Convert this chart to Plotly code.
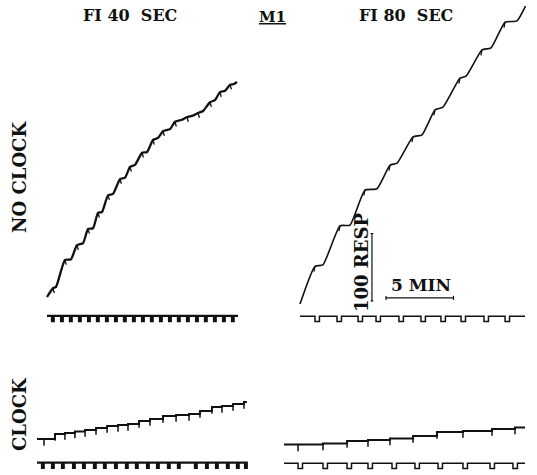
import plotly.graph_objects as go

# ---------------- DATA (minutes, cumulative responses) ----------------
# NO CLOCK, FI 40 SEC : reinforcement points and post-pause points
nc40_rf_t = [0.44, 1.33, 2.22, 3.04, 3.78, 4.52, 5.41, 6.15, 7.04, 7.85, 8.59, 9.48, 10.37, 11.19, 12.07, 12.81, 13.56]
nc40_rf_r = [13, 55, 77, 101, 125, 151, 175, 193, 214, 233, 246, 260, 267, 273, 289, 304, 315]
nc40_pe_t = [0.67, 1.78, 2.67, 3.41, 4.07, 4.89, 5.78, 6.52, 7.41, 8.22, 9.11, 10.0, 10.81, 11.56, 12.44, 13.19, 13.85]
nc40_pe_r = [15, 56, 80, 102, 126, 153, 177, 196, 215, 236, 249, 263, 269, 276, 292, 306, 316]
nc40_end = (14.07, 319)
nc40_events = [0.37, 1.04, 1.70, 2.37, 3.04, 3.70, 4.37, 5.04, 5.70, 6.37, 7.04, 7.70, 8.37, 9.04, 9.70, 10.37, 11.04, 11.70, 12.37, 13.04, 13.70]
nc40_session = 14.15

# NO CLOCK, FI 80 SEC
nc80_rf_t = [1.11, 2.96, 4.81, 6.67, 8.37, 10.0, 11.85, 13.48, 15.19]
nc80_rf_r = [56, 116, 169, 206, 248, 288, 335, 377, 418]
nc80_pe_t = [1.70, 3.70, 5.70, 7.19, 9.04, 10.59, 12.30, 14.15, 16.07]
nc80_pe_r = [58, 117, 171, 209, 251, 292, 338, 380, 420]
nc80_end = (16.70, 442)
nc80_events = [1.11, 2.74, 4.30, 5.63, 7.33, 8.96, 10.44, 11.93, 13.63, 15.19]
nc80_session = 16.67

# CLOCK, FI 40 SEC : cumulative responses at each reinforcement
c40_rf_t = [0.52, 1.33, 2.07, 2.81, 3.56, 4.37, 5.19, 6.00, 6.74, 7.56, 8.37, 9.33, 10.30, 11.26, 12.07, 12.96, 13.70, 14.52, 15.33]
c40_rf_r = [0, 7.4, 8.9, 11.1, 13.4, 16.3, 19.3, 20.8, 22.3, 26.7, 29.7, 34.1, 35.6, 37.1, 41.5, 47.5, 49.0, 52.0, 55.0]
c40_end = (15.48, 56)
c40_events = [0.37, 1.11, 1.85, 2.67, 3.41, 4.22, 4.96, 5.78, 6.59, 7.33, 8.15, 8.89, 9.70, 10.44, 11.70, 12.52, 13.26, 14.07, 14.81, 15.41]
c40_session = 15.5

# CLOCK, FI 80 SEC
c80_rf_t = [1.04, 2.89, 4.67, 6.22, 7.85, 9.56, 11.33, 13.26, 15.41, 17.11]
c80_rf_r = [0.7, 2.2, 5.9, 7.4, 9.6, 13.4, 19.3, 20.8, 23.7, 26.0]
c80_end = (17.78, 27.4)
c80_events = [1.04, 2.89, 4.67, 6.22, 8.0, 9.70, 11.41, 13.26, 15.26, 16.96]
c80_session = 17.85

scale_resp = 100   # calibration bar, responses
scale_min = 5      # calibration bar, minutes

# ---------------- STYLE / LAYOUT ----------------
W, H = 537, 475
KX, KY = 13.5, 0.674          # px per minute, px per response
INK = "#111111"
FONT = "DejaVu Serif"

# pixel origin (t=0, r=0) of each record
origins = {1: (47, 297), 2: (300, 304), 3: (37, 439), 4: (284, 445)}

fig = go.Figure()


def ax(n):
    return ("x" if n == 1 else f"x{n}"), ("y" if n == 1 else f"y{n}")


def add_line(n, xs, ys, width, shape="linear", smooth=None):
    xa, ya = ax(n)
    line = dict(color=INK, width=width, shape=shape)
    if smooth is not None:
        line["smoothing"] = smooth
    fig.add_trace(go.Scatter(x=xs, y=ys, mode="lines", line=line,
                             xaxis=xa, yaxis=ya, hoverinfo="skip", showlegend=False))


def noclock_record(n, rf_t, rf_r, pe_t, pe_r, end, width, pip_dx, pip_dy):
    xs, ys = [0], [0]
    for a, b, c, d in zip(rf_t, rf_r, pe_t, pe_r):
        xs += [a, c]
        ys += [b, d]
    xs.append(end[0]); ys.append(end[1])
    add_line(n, xs, ys, width, shape="spline", smooth=0.5)
    px, py = [], []
    for a, b in zip(rf_t, rf_r):
        px += [a, a + pip_dx, None]
        py += [b, b - pip_dy, None]
    add_line(n, px, py, 1.3)


def clock_record(n, rf_t, rf_r, end, width, tick):
    xs, ys = [0], [rf_r[0]]
    for a, b in zip(rf_t, rf_r):
        xs.append(a); ys.append(b)
    xs.append(end[0]); ys.append(end[1])
    add_line(n, xs, ys, width, shape="hv")
    px, py = [], []
    for a, b in zip(rf_t, rf_r):
        px += [a, a, None]
        py += [b, b - tick, None]
    add_line(n, px, py, 1.5)


def event_line(n, events, session, base, depth, w, width):
    xs, ys = [0], [base]
    for p in events:
        xs += [p, p + w]
        ys += [base - depth, base]
    xs.append(session); ys.append(base)
    add_line(n, xs, ys, width, shape="hv")


noclock_record(1, nc40_rf_t, nc40_rf_r, nc40_pe_t, nc40_pe_r, nc40_end, 2.3, 0.1, 7)
noclock_record(2, nc80_rf_t, nc80_rf_r, nc80_pe_t, nc80_pe_r, nc80_end, 1.6, -0.08, 8)
clock_record(3, c40_rf_t, c40_rf_r, c40_end, 2.0, 10)
clock_record(4, c80_rf_t, c80_rf_r, c80_end, 2.0, 10)

event_line(1, nc40_events, nc40_session, -28, 8, 0.13, 2.2)
event_line(2, nc80_events, nc80_session, -18, 8, 0.33, 1.5)
event_line(3, c40_events, c40_session, -35, 8, 0.13, 2.2)
event_line(4, c80_events, c80_session, -27, 8, 0.33, 1.5)

# calibration bars in the FI 80 no-clock record's units
bar_t, bar_r0 = 5.33, 4.5
add_line(2, [bar_t, bar_t, None, bar_t - 0.1, bar_t + 0.1, None, bar_t - 0.1, bar_t + 0.1],
         [bar_r0, bar_r0 + scale_resp, None, bar_r0, bar_r0, None, bar_r0 + scale_resp, bar_r0 + scale_resp], 1.2)
hb_t0, hb_r = 6.37, 9
add_line(2, [hb_t0, hb_t0 + scale_min, None, hb_t0, hb_t0, None, hb_t0 + scale_min, hb_t0 + scale_min],
         [hb_r, hb_r, None, hb_r - 3, hb_r + 3, None, hb_r - 3, hb_r + 3], 1.2)

layout = dict(width=W, height=H, margin=dict(l=0, r=0, t=0, b=0),
              paper_bgcolor="white", plot_bgcolor="rgba(0,0,0,0)", showlegend=False)
for n, (x0, y0) in origins.items():
    xa = "xaxis" if n == 1 else f"xaxis{n}"
    ya = "yaxis" if n == 1 else f"yaxis{n}"
    xr = [-x0 / KX, (W - x0) / KX]
    yr = [-(H - y0) / KY, y0 / KY]
    layout[xa] = dict(domain=[0, 1], range=xr, visible=False, fixedrange=True,
                      anchor=ax(n)[1])
    layout[ya] = dict(domain=[0, 1], range=yr, visible=False, fixedrange=True,
                      anchor=ax(n)[0])
fig.update_layout(**layout)


def label(text, xpx, ypx, size=16, angle=0):
    fig.add_annotation(text=f"<b>{text}</b>", x=xpx / W, y=1 - ypx / H, xref="paper", yref="paper",
                       showarrow=False, textangle=angle, xanchor="center", yanchor="middle",
                       font=dict(family=FONT, size=size, color=INK))


label("FI 40  SEC", 130, 16, size=16)
label("<u>M1</u>", 272, 17, size=15)
label("FI 80  SEC", 406, 16, size=16)
label("NO CLOCK", 19, 177, size=18, angle=-90)
label("CLOCK", 19, 414, size=18, angle=-90)
label("100 RESP", 361, 262, size=18, angle=-90)
label("5 MIN", 421, 285, size=17)

fig.write_html("out.html", config={"displayModeBar": False, "staticPlot": True},
               post_script="document.body.style.margin='0px';")
